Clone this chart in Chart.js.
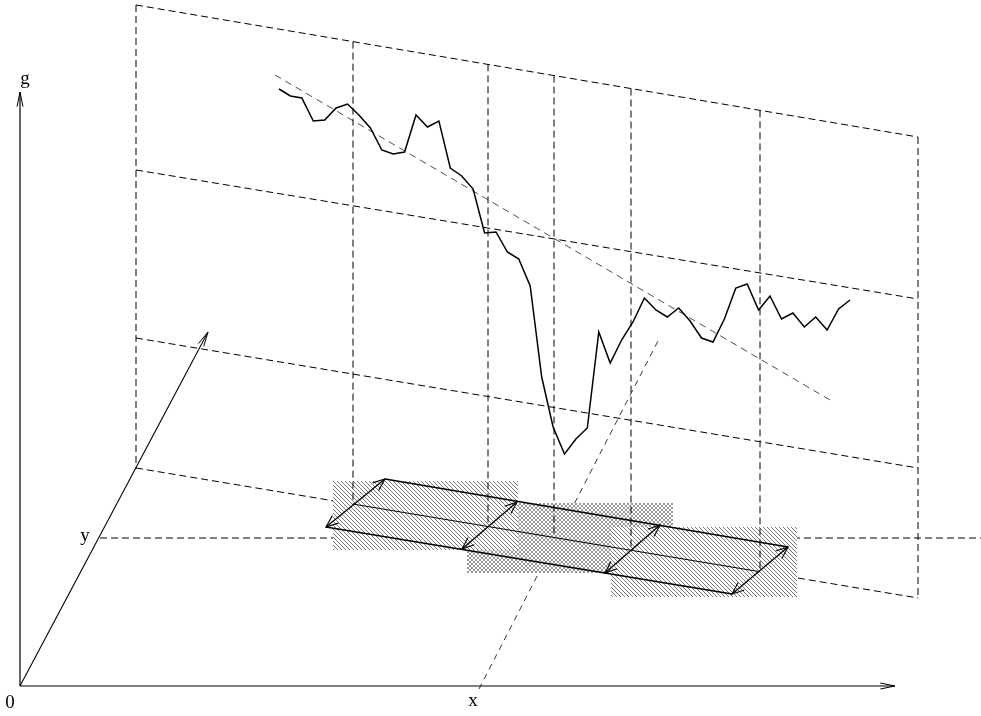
<!DOCTYPE html>
<html><head><meta charset="utf-8">
<script src="https://cdn.jsdelivr.net/npm/chart.js@4/dist/chart.umd.min.js"></script>
<style>html,body{margin:0;padding:0;background:#fff;}canvas{display:block;}</style>
</head><body>
<canvas id="c" width="981" height="716"></canvas>
<script>
// ---- data (diagram units) ----
const curveX = [279,290.4,301.8,313.3,324.7,336.1,347.5,358.9,370.4,381.8,393.2,404.6,416,427.5,438.9,450.3,461.7,473.1,484.6,496,507.4,518.8,530.2,541.7,553.1,564.5,575.9,587.3,598.8,610.2,621.6,633,644.4,655.9,667.3,678.7,690.1,701.5,713,724.4,735.8,747.2,758.6,770,781.5,792.9,804.3,815.7,827.1,838.6,850];
const curveY = [89,96,98,121,120,108,104,115,128,150,154,152,115,127,121,168,176,189,233,232,252,259,286,377,427,454,439,428,332,363,340,322,298,310,317,308,321,338,342,319,288,284,310,296,319,313,327,317,330,309,300];

const frameX = [136, 918];
const frameLeftY = [5, 170, 338, 468];
const frameRightY = [137, 299, 468, 598];
const innerX = [353, 488, 554, 631, 760];

const trendStart = [275, 75], trendEnd = [830, 400];
const slantStart = [479, 689], slantEnd = [658, 341];
const yLevel = 538, yLineFrom = 100, yLineTo = 981;

// boxes: [x0, y0, x1, y1]
const boxCross = [467, 503, 673, 573];
const boxDiag = [[333, 481, 518, 550], [611, 527, 797, 597]];

// parallelogram strip
const stripTop = [[385, 479], [788, 547]];
const stripBottom = [[326, 527], [732, 594]];
const stripMidX = [353, 760];
const arrowBottoms = [[326, 527], [462, 549], [605, 573], [732, 594]];
const arrowTops = [[385, 479], [517, 502], [660, 525], [788, 547]];

// axes
const origin = [20, 686];
const gTip = [20, 92];
const xTip = [895, 686];
const yTip = [208, 332];

const labelText = ['g', 'y', '0', 'x'];
const labelX = [25, 85, 10, 473];
const labelY = [84, 541, 708, 706];

// ---- helpers ----
function lerpLine(i, x) {
  const t = (x - frameX[0]) / (frameX[1] - frameX[0]);
  return frameLeftY[i] + t * (frameRightY[i] - frameLeftY[i]);
}
function pts(arr) { return arr.map(p => ({x: p[0], y: p[1]})); }
function line(arr, o) {
  return Object.assign({
    data: pts(arr), borderColor: '#000', borderWidth: 1, borderDash: [],
    pointRadius: 0, fill: false, tension: 0, order: 10
  }, o || {});
}
function head(tip, from, len, ang) {
  const dx = from[0] - tip[0], dy = from[1] - tip[1];
  const d = Math.hypot(dx, dy), ux = dx / d, uy = dy / d;
  const r = a => [tip[0] + len * (ux * Math.cos(a) - uy * Math.sin(a)),
                  tip[1] + len * (ux * Math.sin(a) + uy * Math.cos(a))];
  return [r(ang), tip, r(-ang)];
}
function hatch(cross) {
  const s = 4;
  const c = document.createElement('canvas'); c.width = s; c.height = s;
  const g = c.getContext('2d');
  g.fillStyle = '#fff'; g.fillRect(0, 0, s, s);
  g.strokeStyle = cross ? '#8c8c8c' : '#6a6a6a'; g.lineWidth = 0.9;
  g.beginPath();
  g.moveTo(-1, -1); g.lineTo(s + 1, s + 1);
  g.moveTo(-1, s - 1); g.lineTo(1, s + 1);
  g.moveTo(s - 1, -1); g.lineTo(s + 1, 1);
  if (cross) {
    g.moveTo(s + 1, -1); g.lineTo(-1, s + 1);
    g.moveTo(1, -1); g.lineTo(-1, 1);
    g.moveTo(s + 1, s - 1); g.lineTo(s - 1, s + 1);
  }
  g.stroke();
  return g.createPattern(c, 'repeat');
}
function box(b, pattern, order) {
  return {
    data: pts([[b[0], b[1]], [b[2], b[1]], [b[2], b[3]], [b[0], b[3]], [b[0], b[1]]]),
    borderColor: 'rgba(0,0,0,0)', borderWidth: 0, backgroundColor: pattern,
    fill: 'shape', pointRadius: 0, tension: 0, order: order
  };
}

const DASH = [7, 4];
const datasets = [];

// frame sloped dashed lines
for (let i = 0; i < frameLeftY.length; i++) {
  datasets.push(line([[frameX[0], frameLeftY[i]], [frameX[1], frameRightY[i]]], {borderDash: DASH, order: 50}));
}
// frame verticals
for (let k = 0; k < 2; k++) {
  datasets.push(line([[frameX[k], k ? frameRightY[0] : frameLeftY[0]], [frameX[k], k ? frameRightY[3] : frameLeftY[3]]], {borderDash: DASH, order: 50}));
}
// y level dashed line
datasets.push(line([[yLineFrom, yLevel], [yLineTo, yLevel]], {borderDash: DASH, order: 50}));
// slanted dashed line
datasets.push(line([slantStart, slantEnd], {borderDash: [6, 5], borderWidth: 0.9, borderColor: '#222', order: 50}));

// boxes
const diagP = hatch(false), crossP = hatch(true);
datasets.push(box(boxCross, crossP, 40));
boxDiag.forEach(b => datasets.push(box(b, diagP, 30)));

// inner verticals (on top of boxes)
innerX.forEach(x => datasets.push(line([[x, lerpLine(0, x)], [x, lerpLine(3, x)]], {borderDash: DASH, order: 20})));

// strip
datasets.push(line(stripTop, {borderWidth: 1.6, order: 10}));
datasets.push(line(stripBottom, {borderWidth: 1.6, order: 10}));
datasets.push(line([[stripMidX[0], lerpLine(3, stripMidX[0])], [stripMidX[1], lerpLine(3, stripMidX[1])]], {borderWidth: 1, order: 10}));
for (let i = 0; i < arrowBottoms.length; i++) {
  const a = arrowBottoms[i], b = arrowTops[i];
  datasets.push(line([a, b], {borderWidth: 1.3, order: 10}));
  datasets.push(line(head(b, a, 13, 0.38), {borderWidth: 1.1, order: 10}));
  datasets.push(line(head(a, b, 13, 0.38), {borderWidth: 1.1, order: 10}));
}

// trend
datasets.push(line([trendStart, trendEnd], {borderDash: [7, 5], borderWidth: 0.8, borderColor: '#222', order: 8}));
// curve
datasets.push(line(curveX.map((x, i) => [x, curveY[i]]), {borderWidth: 1.5, order: 5}));

// axes
datasets.push(line([origin, xTip], {borderWidth: 1.2, order: 5}));
datasets.push(line([origin, gTip], {borderWidth: 1.2, order: 5}));
datasets.push(line([origin, yTip], {borderWidth: 1.1, order: 5}));
datasets.push(line(head(xTip, origin, 15, 0.2), {borderWidth: 1, order: 5}));
datasets.push(line(head(gTip, origin, 15, 0.2), {borderWidth: 1, order: 5}));
datasets.push(line(head(yTip, origin, 15, 0.2), {borderWidth: 1, order: 5}));

const labelPlugin = {
  id: 'labels',
  afterDraw(chart) {
    const ctx = chart.ctx, sx = chart.scales.x, sy = chart.scales.y;
    ctx.save();
    ctx.font = '19px "Liberation Serif", "DejaVu Serif", serif';
    ctx.fillStyle = '#000';
    ctx.textAlign = 'center';
    ctx.textBaseline = 'alphabetic';
    labelText.forEach((t, i) => ctx.fillText(t, sx.getPixelForValue(labelX[i]), sy.getPixelForValue(labelY[i])));
    ctx.restore();
  }
};

new Chart(document.getElementById('c'), {
  type: 'line',
  data: {datasets},
  options: {
    responsive: false, animation: false, devicePixelRatio: 1, events: [],
    layout: {padding: 0},
    plugins: {legend: {display: false}, tooltip: {enabled: false}},
    scales: {
      x: {type: 'linear', min: 0, max: 981, display: false},
      y: {type: 'linear', min: 0, max: 716, reverse: true, display: false}
    }
  },
  plugins: [labelPlugin]
});
</script>
</body></html>
